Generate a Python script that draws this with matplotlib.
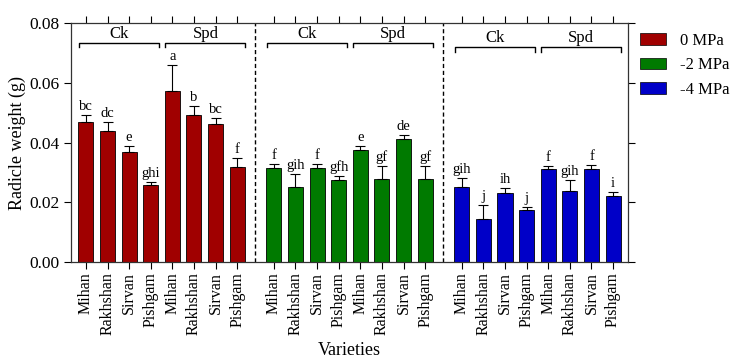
import matplotlib
matplotlib.use("Agg")
import matplotlib.pyplot as plt
from matplotlib.patches import Patch
import numpy as np

plt.rcParams['font.family'] = ['Liberation Serif', 'DejaVu Serif']

varieties = ["Mihan", "Rakhshan", "Sirvan", "Pishgam"] * 2
treatments = ["Ck", "Spd"]
levels = ["0 MPa", "-2 MPa", "-4 MPa"]
colors = ["#A00000", "#007A00", "#0000C8"]

means_0 = [0.0467, 0.0437, 0.0369, 0.0259, 0.0571, 0.0493, 0.0463, 0.0318]
err_0 = [0.0026, 0.0031, 0.0019, 0.0009, 0.0086, 0.0028, 0.0018, 0.0029]
letters_0 = ["bc", "dc", "e", "ghi", "a", "b", "bc", "f"]

means_2 = [0.0315, 0.0251, 0.0315, 0.0275, 0.0375, 0.0277, 0.0413, 0.0277]
err_2 = [0.0013, 0.0043, 0.0013, 0.0012, 0.0012, 0.0045, 0.0011, 0.0045]
letters_2 = ["f", "gih", "f", "gfh", "e", "gf", "de", "gf"]

means_4 = [0.0252, 0.0145, 0.0233, 0.0174, 0.0311, 0.0238, 0.0312, 0.0222]
err_4 = [0.0029, 0.0047, 0.0016, 0.0012, 0.0009, 0.0036, 0.0013, 0.0012]
letters_4 = ["gih", "j", "ih", "j", "f", "gih", "f", "i"]

all_means = [means_0, means_2, means_4]
all_errs = [err_0, err_2, err_4]
all_letters = [letters_0, letters_2, letters_4]

fig = plt.figure(figsize=(7.35, 3.62), dpi=100)
ax = fig.add_axes([0.0966, 0.2749, 0.7578, 0.6629])

group_offsets = [0.0, 8.7, 17.4]
width = 0.7
all_pos = []
all_labels = []
for g in range(3):
    pos = np.arange(8) + group_offsets[g]
    all_pos.extend(pos)
    all_labels.extend(varieties)
    ax.bar(pos, all_means[g], width=width, color=colors[g], edgecolor='black',
           linewidth=0.6, zorder=2)
    ax.errorbar(pos, all_means[g], yerr=[np.zeros(8), all_errs[g]], fmt='none',
                ecolor='black', elinewidth=0.8, capsize=3.5, capthick=0.8, zorder=3)
    for p, m, e, t in zip(pos, all_means[g], all_errs[g], all_letters[g]):
        ax.annotate(t, (p, m + e), xytext=(0, 1.5), textcoords='offset points',
                    ha='center', va='bottom', fontsize=10.5)
    # brackets
    bline = 0.0731 if g < 2 else 0.0719
    drop = 0.0013 if g < 2 else 0.0016
    for k, name in enumerate(treatments):
        x0 = pos[4 * k] - 0.32
        x1 = pos[4 * k + 3] + 0.38
        ax.plot([x0, x0, x1, x1], [bline - drop, bline, bline, bline - drop],
                color='black', lw=1.0, zorder=3)
        ax.text((x0 + x1) / 2, bline + 0.0003, name, ha='center', va='bottom',
                fontsize=12)

for xd in [7.84, 16.53]:
    ax.axvline(xd, color='black', linestyle=(0, (3, 2)), lw=1.0, zorder=1)

ax.set_xlim(-0.69, 25.09)
ax.set_ylim(0, 0.08)
ax.set_yticks([0, 0.02, 0.04, 0.06, 0.08])
ax.set_yticklabels(["0.00", "0.02", "0.04", "0.06", "0.08"], fontsize=12.5)
ax.set_xticks(all_pos)
ax.set_xticklabels(all_labels, rotation=90, fontsize=11.5)
ax.tick_params(axis='x', direction='out', length=5, width=0.8, top=True,
               bottom=True, pad=2)
ax.tick_params(axis='y', direction='out', length=5, width=0.8, left=True,
               right=True)
for s in ax.spines.values():
    s.set_linewidth(0.9)
    s.set_color('#333333')
ax.set_ylabel("Radicle weight (g)", fontsize=13, labelpad=2)
ax.set_xlabel("Varieties", fontsize=13, labelpad=5)

handles = [Patch(facecolor=c, edgecolor='black', linewidth=0.5) for c in colors]
fig.legend(handles, levels, loc='upper left', bbox_to_anchor=(0.851, 0.95),
           frameon=False, fontsize=12, handlelength=1.55, handleheight=0.7,
           labelspacing=0.5, handletextpad=0.85)

fig.savefig("out.png", dpi=100)
